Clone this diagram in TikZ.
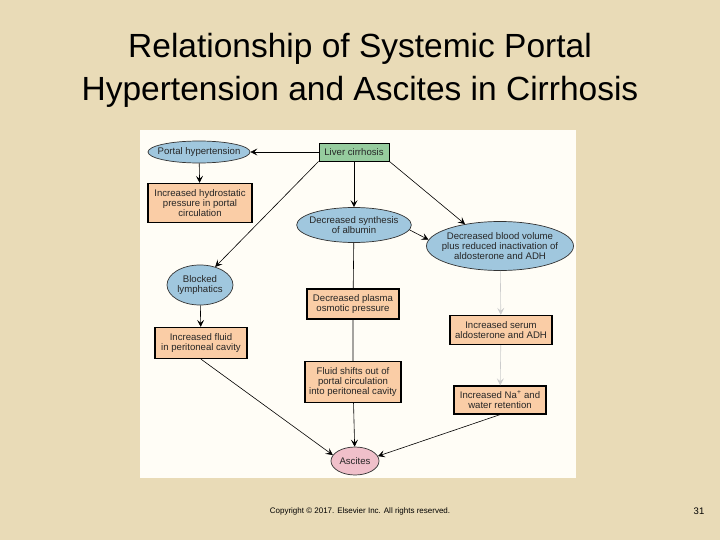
\documentclass[tikz,border=0pt]{standalone}
\usepackage{fontspec}
\setmainfont{Liberation Sans}
\usetikzlibrary{shapes.geometric,arrows.meta}
\definecolor{parch}{RGB}{233,219,183}
\definecolor{panel}{RGB}{255,253,246}
\definecolor{oblue}{RGB}{160,199,222}
\definecolor{ogreen}{RGB}{150,204,158}
\definecolor{peach}{RGB}{250,205,166}
\definecolor{opink}{RGB}{240,192,202}
\begin{document}
\begin{tikzpicture}[x=1pt,y=-1pt, every node/.style={font=\fontsize{9.6}{10.4}\selectfont,align=center,text=black!85},
  box/.style={draw=black,line width=1.3pt,fill=peach,inner sep=1pt},
  oval/.style={ellipse,draw=black!80,line width=0.7pt,fill=oblue,inner sep=0pt},
  arr/.style={-{Stealth[length=7pt,width=7pt,inset=3pt]},line width=0.6pt}]
\useasboundingbox (0,0) rectangle (720,540);
\fill[parch] (0,0) rectangle (720,540);
\fill[panel] (140,130) rectangle (576,478);
% title
\node[font=\fontsize{33.5}{43}\selectfont,text=black] (title) at (360,70) {Relationship of Systemic Portal\\Hypertension and Ascites in Cirrhosis};
% nodes
\node[draw=black,line width=0.9pt,fill=ogreen,minimum width=70pt,minimum height=18pt,inner sep=0pt] (liver) at (354,152) {Liver cirrhosis};
\node[oval,inner xsep=-7pt,minimum width=102pt,minimum height=22pt] (ph) at (199,152) {Portal hypertension};
\node[box,minimum width=104pt,minimum height=39pt] (hyd) at (200,203) {Increased hydrostatic\\pressure in portal\\circulation};
\node[oval,inner xsep=-4pt,minimum width=114pt,minimum height=35pt] (alb) at (354,225) {Decreased synthesis\\of albumin};
\node[oval,inner xsep=-11pt,minimum width=147pt,minimum height=49pt] (bv) at (500,246) {Decreased blood volume\\plus reduced inactivation of\\aldosterone and ADH};
\node[oval,minimum width=66pt,minimum height=40pt] (blk) at (200,285) {Blocked\\lymphatics};
\node[box,minimum width=92pt,minimum height=30pt] (osm) at (353,304) {Decreased plasma\\osmotic pressure};
\node[box,minimum width=102pt,minimum height=29pt] (ser) at (501,330) {Increased serum\\aldosterone and ADH};
\node[box,minimum width=92pt,minimum height=31pt] (incf) at (201,343) {Increased fluid\\in peritoneal cavity};
\node[box,minimum width=96pt,minimum height=41pt] (shift) at (353,382) {Fluid shifts out of\\portal circulation\\into peritoneal cavity};
\node[box,minimum width=92pt,minimum height=28pt] (na) at (500,400) {Increased Na\textsuperscript{+} and\\water retention};
\node[oval,fill=opink,minimum width=48pt,minimum height=28pt] (asc) at (355,461) {Ascites};
% connectors
\draw[arr] (liver) -- (ph);
\draw[arr] (ph) -- (hyd);
\draw[arr] (liver) -- (alb);
\draw[arr] (liver.south west) -- (blk.50);
\draw[arr] (liver.south east) -- (bv.148);
\draw[arr] (alb.-5) -- (bv.175);
\draw[line width=0.6pt] (alb) -- (osm) -- (shift);
\draw[arr] (blk) -- (incf);
\draw[arr,draw=black!20] (bv) -- (ser);
\draw[arr,draw=black!20] (ser) -- (na);
\draw[arr] (shift) -- (asc);
\draw[arr] (incf.south) -- (asc.165);
\draw[arr] (na.south) -- (asc.12);
% footer
\node[font=\fontsize{8}{9}\selectfont,text=black] (copy) at (360,511) {Copyright © 2017. Elsevier Inc. All rights reserved.};
\node[font=\fontsize{9.5}{10}\selectfont,text=black] (pg) at (699,511) {31};
\end{tikzpicture}
\end{document}
